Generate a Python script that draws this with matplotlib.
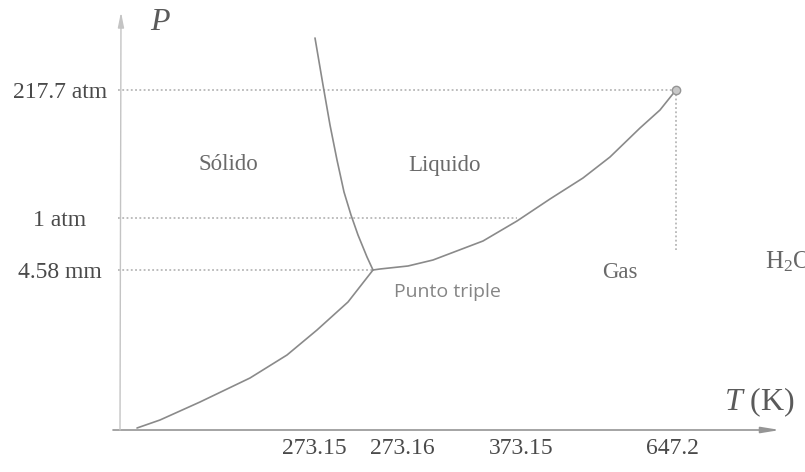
import matplotlib
matplotlib.use("Agg")
import matplotlib.pyplot as plt

# Schematic phase diagram of water (diagram units, origin at the axes corner)
temp_tick_pos = [196, 284, 403, 554]
temp_tick_labels = ["273.15", "273.16", "373.15", "647.2"]

pres_levels = [340, 212, 160]
pres_labels = ["217.7 atm", "1 atm", "4.58 mm"]

triple_point = (255, 160)
critical_point = (558, 340)
one_atm_boiling_x = 399

# Solid–gas (sublimation) curve
sub_x = [19, 42, 82, 132, 169, 199, 230, 255]
sub_y = [2, 10, 28, 52, 75, 100, 128, 160]

# Solid–liquid (fusion) curve
fus_x = [255, 249, 240, 233, 226, 219, 212, 205, 197]
fus_y = [160, 173, 195, 215, 238, 270, 305, 345, 392]

# Liquid–gas (vaporisation) curve
vap_x = [255, 262, 290, 315, 365, 399, 432, 465, 492, 522, 542, 558]
vap_y = [160, 161, 164, 170, 189, 209, 231, 252, 273, 302, 320, 340]

region_labels = ["Sólido", "Liquido", "Gas", "Punto triple"]
region_pos = [(110, 265), (327, 265), (502, 157), (329, 138)]

plt.rcParams["mathtext.fontset"] = "custom"
plt.rcParams["mathtext.rm"] = "Liberation Serif"
plt.rcParams["mathtext.it"] = "Liberation Serif:italic"

W, H = 805, 472
fig = plt.figure(figsize=(W / 100, H / 100), dpi=100)
fig.patch.set_facecolor("white")
ax = fig.add_axes([118 / W, 42 / H, 662 / W, 415 / H])
ax.set_xlim(0, 662)
ax.set_ylim(0, 415)
for s in ax.spines.values():
    s.set_visible(False)

serif = "Liberation Serif"
txt_col = "#4a4a4a"
line_col = "#8a8a8a"
dot_col = "#ababab"

# Axes with arrows
ax.annotate("", xy=(662, 0), xytext=(-5, 0), annotation_clip=False,
            arrowprops=dict(arrowstyle="-|>,head_length=1.1,head_width=0.18",
                            color="#959595", lw=1.2, shrinkA=0, shrinkB=0))
ax.annotate("", xy=(3, 418), xytext=(2, 0), annotation_clip=False,
            arrowprops=dict(arrowstyle="-|>,head_length=0.9,head_width=0.18",
                            color="#c4c4c4", lw=1.0, shrinkA=0, shrinkB=0))

# Reference (dotted) lines
dot = dict(color=dot_col, lw=1.1, linestyle=(0, (1.2, 1.6)))
ax.plot([0, critical_point[0]], [pres_levels[0]] * 2, **dot)
ax.plot([0, one_atm_boiling_x], [pres_levels[1]] * 2, **dot)
ax.plot([0, triple_point[0]], [pres_levels[2]] * 2, **dot)
ax.plot([critical_point[0]] * 2, [critical_point[1], 180], **dot)

# Phase boundaries
for xs, ys in ((sub_x, sub_y), (fus_x, fus_y), (vap_x, vap_y)):
    ax.plot(xs, ys, color=line_col, lw=1.2, solid_capstyle="round",
            solid_joinstyle="round")
ax.plot(*critical_point, "o", ms=6, mfc="#c8c8c8", mec="#959595", mew=1)

# Ticks
ax.set_xticks(temp_tick_pos, temp_tick_labels)
ax.set_yticks(pres_levels, pres_labels)
ax.tick_params(axis="x", length=0, pad=6, labelsize=17, labelcolor=txt_col)
ax.tick_params(axis="y", length=0, pad=42, labelsize=17, labelcolor=txt_col)
for lab in ax.get_xticklabels() + ax.get_yticklabels():
    lab.set_fontfamily(serif)
for lab in ax.get_yticklabels():
    lab.set_horizontalalignment("center")

# Region labels
for lab, (x, y) in zip(region_labels, region_pos):
    if lab == "Punto triple":
        ax.text(x, y, lab, ha="center", va="center", fontsize=14,
                family="Open Sans", color="#858585", clip_on=False)
    else:
        ax.text(x, y, lab, ha="center", va="center", fontsize=16.5,
                family=serif, color="#6a6a6a", clip_on=False)

# Axis titles
ax.text(42, 407, "P", ha="center", va="center", fontsize=23, family=serif,
        style="italic", color="#5a5a5a", clip_on=False)
ax.text(641, 28, r"$T\ (\mathrm{K})$", ha="center", va="center", fontsize=23,
        color="#5a5a5a", clip_on=False)
ax.text(647, 168, r"$\mathrm{H_2O}$", ha="left", va="center", fontsize=18,
        color="#666666", clip_on=False)

fig.savefig("out.png", dpi=100, facecolor="white")
